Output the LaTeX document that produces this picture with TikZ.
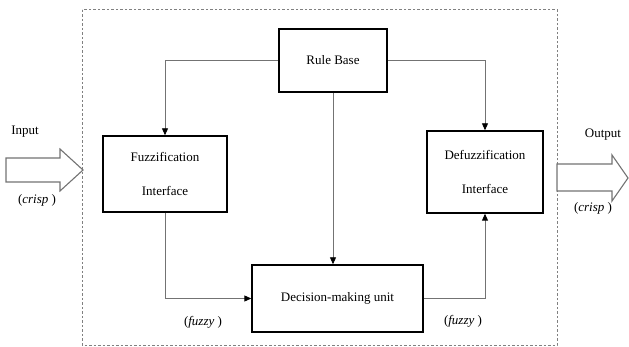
\documentclass[tikz,border=0pt]{standalone}
\usepackage{fontspec}
\setmainfont{Liberation Serif}
\usetikzlibrary{arrows.meta}
\begin{document}
\begin{tikzpicture}[x=1pt,y=-1pt,
  box/.style={draw=black,line width=1.4pt,fill=white,inner sep=0pt,align=center,
    font=\fontsize{13}{34}\selectfont},
  conn/.style={draw=black!55,line width=0.9pt},
  tip/.style={-{Triangle[length=7pt,width=6pt,fill=black,color=black]}},
  lbl/.style={font=\fontsize{13}{15}\selectfont,inner sep=0pt},
  blockarrow/.style={draw=black!55,line width=1.1pt,fill=white,line join=miter},
  frame/.style={draw=black!50,line width=1pt,dash pattern=on 2.5pt off 2pt}]
\useasboundingbox (0,0) rectangle (629,347);
\draw[frame] (82,10) rectangle (557,345);

\node[box,minimum width=108pt,minimum height=63pt] (rb) at (333,60.5) {Rule Base};
\node[box,minimum width=124pt,minimum height=76pt] (fz) at (165,174) {Fuzzification\\Interface};
\node[box,minimum width=116pt,minimum height=82pt] (dfz) at (485,172) {Defuzzification\\Interface};
\node[box,minimum width=171pt,minimum height=67pt] (dm) at (337.5,298.5) {Decision-making unit};

\draw[conn,tip] (rb.west) -| (fz.north);
\draw[conn,tip] (rb.east) -| (dfz.north);
\draw[conn,tip] (rb.south) -- (rb.south |- dm.north);
\draw[conn,tip] (fz.south) |- (dm.west);
\draw[conn,tip] (dm.east) -| (dfz.south);

% input block arrow
\draw[blockarrow] (6,158) -- (60,158) -- (60,149) -- (83,170) -- (60,191) -- (60,182) -- (6,182) -- cycle;
% output block arrow
\draw[blockarrow] (557,164) -- (612,164) -- (612,155) -- (628,178) -- (612,201) -- (612,191) -- (557,191) -- cycle;

\node[lbl] (inl) at (25,132) {Input};
\node[lbl] (inc) at (37,200) {(\textit{crisp} )};
\node[lbl] (outl) at (603,135) {Output};
\node[lbl] (outc) at (593,208) {(\textit{crisp} )};
\node[lbl] (fl) at (203,322) {(\textit{fuzzy} )};
\node[lbl] (fr) at (463,321) {(\textit{fuzzy} )};
\end{tikzpicture}
\end{document}
